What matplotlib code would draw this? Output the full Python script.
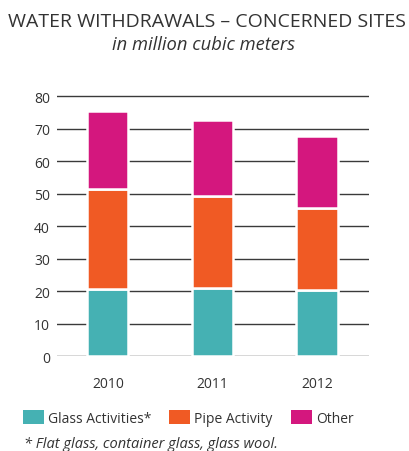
import matplotlib.pyplot as plt
from matplotlib.patches import Patch

plt.rcParams['font.family'] = ['Open Sans', 'DejaVu Sans']

years = ['2010', '2011', '2012']
glass = [20.6, 21.0, 20.2]
pipe = [30.9, 28.2, 25.5]
other = [23.8, 23.4, 22.1]
series_labels = ['Glass Activities*', 'Pipe Activity', 'Other']
colors = ['#45B1B3', '#F05A24', '#D4177E']
yticks = [0, 10, 20, 30, 40, 50, 60, 70, 80]

text_color = '#333333'

fig = plt.figure(figsize=(4.09, 4.52), dpi=100)
ax = fig.add_axes([0.139, 0.210, 0.763, 0.5896])

x = list(range(len(years)))
bottom = [0.0] * len(years)
for vals, color in zip([glass, pipe, other], colors):
    ax.bar(x, vals, bottom=bottom, width=0.395, color=color,
           edgecolor='white', linewidth=1.8, zorder=3)
    bottom = [b + v for b, v in zip(bottom, vals)]

ax.set_ylim(0, 82)
ax.set_xlim(-0.488, 2.498)
ax.set_yticks(yticks)
ax.set_xticks(x)
ax.set_xticklabels(years)
ax.grid(axis='y', color='#3a3a3a', linewidth=1.0, zorder=1)
ax.tick_params(axis='y', length=0, pad=5, labelsize=10, labelcolor=text_color)
ax.tick_params(axis='x', length=0, pad=14, labelsize=10, labelcolor=text_color)
for side in ax.spines.values():
    side.set_visible(False)

fig.text(0.505, 0.951, 'WATER WITHDRAWALS – CONCERNED SITES', ha='center',
         va='center', fontsize=14, color=text_color)
fig.text(0.497, 0.900, 'in million cubic meters', ha='center', va='center',
         fontsize=13.2, style='italic', color=text_color)

handles = [Patch(facecolor=c, edgecolor='none') for c in colors]
fig.legend(handles, series_labels, loc='center left', bbox_to_anchor=(0.056, 0.073),
           ncol=3, frameon=False, fontsize=10, handlelength=1.5, handleheight=1.2,
           handletextpad=0.3, columnspacing=1.3, labelcolor=text_color,
           borderaxespad=0, borderpad=0)

fig.text(0.058, 0.016, '* Flat glass, container glass, glass wool.', ha='left',
         va='center', fontsize=10.5, style='italic', color=text_color)

fig.savefig('out.png', dpi=100)
